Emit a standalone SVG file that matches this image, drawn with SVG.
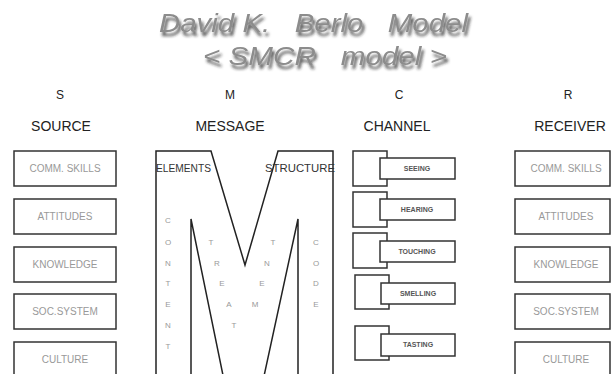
<svg xmlns="http://www.w3.org/2000/svg" width="611" height="374" viewBox="0 0 611 374">
<defs>
<filter id="sh" x="-10%" y="-30%" width="120%" height="180%">
<feGaussianBlur in="SourceAlpha" stdDeviation="1.8"/>
<feOffset dx="1.5" dy="3.5" result="b"/>
<feFlood flood-color="#222" flood-opacity="0.8"/>
<feComposite in2="b" operator="in" result="s"/>
<feMerge><feMergeNode in="s"/><feMergeNode in="SourceGraphic"/></feMerge>
</filter>
</defs>
<style>
text{font-family:"Liberation Sans",Arial,sans-serif}
.title{font-size:26px;font-style:italic;fill:#8c8c8c}
.hd{font-size:12px;fill:#222;text-anchor:middle}
.hd2{font-size:14px;fill:#222;text-anchor:middle}
.box{fill:#fff;stroke:#333;stroke-width:1.5}
.bt{font-size:10px;fill:#999;text-anchor:middle}
.ct{font-size:7px;font-weight:bold;fill:#555;text-anchor:middle}
.ln{fill:none;stroke:#222;stroke-width:1.5}
.ml{font-size:8px;fill:#999;text-anchor:middle}
.me{font-size:11.5px;fill:#333}
</style>
<rect width="611" height="374" fill="#fff"/>
<g id="title" filter="url(#sh)">
<text class="title" x="159" y="32" xml:space="preserve" textLength="309" lengthAdjust="spacingAndGlyphs">David K.   Berlo   Model</text>
<text class="title" x="203" y="65" xml:space="preserve" textLength="244" lengthAdjust="spacingAndGlyphs">&lt; SMCR   model &gt;</text>
</g>
<g id="source">
<text class="hd" x="60" y="99">S</text>
<text class="hd2" x="61" y="131">SOURCE</text>
<rect class="box" x="14" y="151" width="102" height="35"/><text class="bt" x="65" y="172">COMM. SKILLS</text>
<rect class="box" x="14" y="199" width="102" height="35"/><text class="bt" x="65" y="220">ATTITUDES</text>
<rect class="box" x="14" y="247" width="102" height="35"/><text class="bt" x="65" y="268">KNOWLEDGE</text>
<rect class="box" x="14" y="294" width="102" height="35"/><text class="bt" x="65" y="315">SOC.SYSTEM</text>
<rect class="box" x="14" y="342" width="102" height="35"/><text class="bt" x="65" y="363">CULTURE</text>
</g>
<g id="message">
<text class="hd" x="230" y="99">M</text>
<text class="hd2" x="230" y="131">MESSAGE</text>
<path class="ln" d="M156 380 V151 H211 L245 265 L278 151 H333 V380"/>
<path class="ln" d="M191 380 V219 L226 390"/>
<path class="ln" d="M298 380 V219 L261 390"/>
<text class="me" x="156" y="172" textLength="55" lengthAdjust="spacingAndGlyphs">ELEMENTS</text>
<text class="me" x="265" y="172" textLength="70" lengthAdjust="spacingAndGlyphs">STRUCTURE</text>
<g class="ml">
<text x="168" y="223">C</text><text x="168" y="245">O</text><text x="168" y="266">N</text><text x="168" y="286">T</text><text x="168" y="307">E</text><text x="168" y="328">N</text><text x="168" y="349">T</text>
<text x="211" y="245">T</text><text x="217" y="266">R</text><text x="222" y="286">E</text><text x="229" y="307">A</text><text x="234" y="328">T</text>
<text x="273" y="245">T</text><text x="267" y="266">N</text><text x="262" y="286">E</text><text x="255" y="307">M</text>
<text x="316" y="245">C</text><text x="316" y="266">O</text><text x="316" y="286">D</text><text x="316" y="307">E</text>
</g>
</g>
<g id="channel">
<text class="hd" x="399" y="99">C</text>
<text class="hd2" x="397" y="131">CHANNEL</text>
<rect class="box" x="353" y="151" width="34" height="35"/><rect class="box" x="380" y="158" width="75" height="21"/><text class="ct" x="417" y="171">SEEING</text>
<rect class="box" x="353" y="192" width="34" height="35"/><rect class="box" x="380" y="199" width="75" height="21"/><text class="ct" x="417" y="212">HEARING</text>
<rect class="box" x="353" y="233" width="34" height="35"/><rect class="box" x="380" y="241" width="75" height="21"/><text class="ct" x="417" y="254">TOUCHING</text>
<rect class="box" x="355" y="275" width="34" height="34"/><rect class="box" x="381" y="283" width="74" height="21"/><text class="ct" x="418" y="296">SMELLING</text>
<rect class="box" x="355" y="326" width="34" height="34"/><rect class="box" x="381" y="334" width="74" height="22"/><text class="ct" x="418" y="347">TASTING</text>
</g>
<g id="receiver">
<text class="hd" x="568" y="99">R</text>
<text class="hd2" x="570" y="131">RECEIVER</text>
<rect class="box" x="515" y="151" width="95" height="35"/><text class="bt" x="566" y="172">COMM. SKILLS</text>
<rect class="box" x="515" y="199" width="95" height="35"/><text class="bt" x="566" y="220">ATTITUDES</text>
<rect class="box" x="515" y="247" width="95" height="35"/><text class="bt" x="566" y="268">KNOWLEDGE</text>
<rect class="box" x="515" y="294" width="95" height="35"/><text class="bt" x="566" y="315">SOC.SYSTEM</text>
<rect class="box" x="515" y="342" width="95" height="35"/><text class="bt" x="566" y="363">CULTURE</text>
</g>
</svg>
